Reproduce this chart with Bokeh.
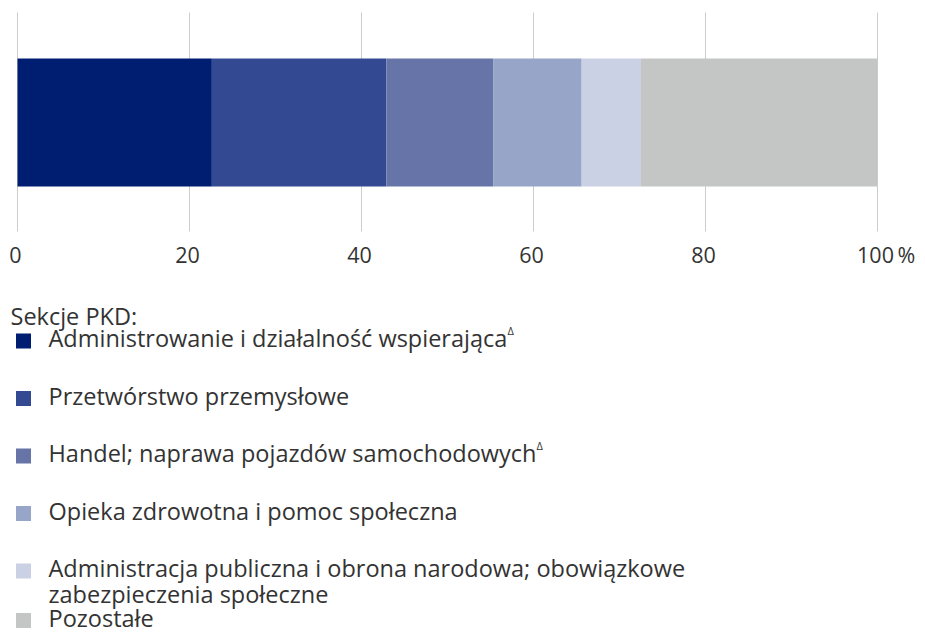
from bokeh.plotting import figure
from bokeh.models import Range1d, ColumnDataSource
from bokeh.core.properties import value
from bokeh.embed import file_html
from bokeh.resources import INLINE
import numpy as np

# ---------------- data ----------------
categories = [
    "Administrowanie i działalność wspierająca",
    "Przetwórstwo przemysłowe",
    "Handel; naprawa pojazdów samochodowych",
    "Opieka zdrowotna i pomoc społeczna",
    "Administracja publiczna i obrona narodowa; obowiązkowe\nzabezpieczenia społeczne",
    "Pozostałe",
]
footnote_marks = ["Δ", "", "Δ", "", "", ""]
shares = [22.6, 20.3, 12.4, 10.3, 6.9, 27.5]
tick_values = [0, 20, 40, 60, 80, 100]
tick_labels = ["0", "20", "40", "60", "80", "100"]
unit_label = "%"
legend_title = "Sekcje PKD:"

# ---------------- style / layout ----------------
colors = ["#001e71", "#334a92", "#6674a8", "#97a5c9", "#cbd1e4", "#c4c6c5"]
FONT = "Open Sans"
TEXT = "#333333"
GRID = "#cccccc"
W, H = 925, 634
PX_PER_UNIT = 8.6
ZERO_X = 17
BAR_Y, BAR_H = 122, 128
GRID_TOP, GRID_BOTTOM = 12, 231
TICK_BASE = 264
LEG_FS, TICK_FS, MARK_FS = 23.5, 21.5, 11
BASE_FIX = 0.45          # empirical alphabetic-baseline correction (em)
ROW_Y = [340.5, 398, 455.5, 513, 570.5, 620]
LINE_H = 26
MARK_X = [507, None, 536, None, None, None]


def fix(fs):
    return -BASE_FIX * fs


p = figure(width=W, height=H,
           x_range=Range1d(-ZERO_X / PX_PER_UNIT, (W - ZERO_X) / PX_PER_UNIT),
           y_range=Range1d(H, 0),
           output_backend="svg", toolbar_location=None,
           x_axis_location=None, y_axis_location=None,
           min_border_left=0, min_border_right=0,
           min_border_top=0, min_border_bottom=0)
p.outline_line_color = None
p.xgrid.visible = False
p.ygrid.visible = False
p.background_fill_color = "white"
p.border_fill_color = "white"

# grid lines at tick positions
p.segment(x0=tick_values, x1=tick_values,
          y0=[GRID_TOP] * len(tick_values), y1=[GRID_BOTTOM] * len(tick_values),
          line_color=GRID, line_width=1)

# stacked bar
right = np.cumsum(shares)
left = right - np.array(shares)
bar_src = ColumnDataSource(dict(left=left, right=right, color=colors,
                                y=[BAR_Y] * len(shares)))
p.hbar(y="y", left="left", right="right", height=BAR_H,
       fill_color="color", line_color=None, source=bar_src)

# tick labels
p.text(x=tick_values, y=[TICK_BASE + fix(TICK_FS)] * len(tick_values),
       text=tick_labels, x_offset=-2,
       text_font=value(FONT), text_font_size=f"{TICK_FS}px", text_color=TEXT,
       text_baseline="alphabetic", text_align="center")
p.text(x=[tick_values[-1]], y=[TICK_BASE + fix(TICK_FS)], text=[unit_label],
       x_offset=20,
       text_font=value(FONT), text_font_size=f"{TICK_FS}px", text_color=TEXT,
       text_baseline="alphabetic", text_align="left")

# legend
p.text(x=[10 / PX_PER_UNIT - ZERO_X / PX_PER_UNIT], y=[326.5 + fix(LEG_FS)],
       text=[legend_title],
       text_font=value(FONT), text_font_size=f"{LEG_FS}px", text_color=TEXT,
       text_baseline="alphabetic", text_align="left")

sq_x = (23 - ZERO_X) / PX_PER_UNIT
p.scatter(x=[sq_x] * len(categories), y=ROW_Y, marker="square", size=15,
          fill_color=colors, line_color=None)

txt_x = (48 - ZERO_X) / PX_PER_UNIT
lx, ly, lt = [], [], []
for cat, ry in zip(categories, ROW_Y):
    for i, line in enumerate(cat.split("\n")):
        lx.append(txt_x)
        ly.append(ry + 8 + i * LINE_H + fix(LEG_FS))
        lt.append(line)
p.text(x=lx, y=ly, text=lt,
       text_font=value(FONT), text_font_size=f"{LEG_FS}px", text_color=TEXT,
       text_baseline="alphabetic", text_align="left")

mx, my, mt = [], [], []
for m, xx, ry in zip(footnote_marks, MARK_X, ROW_Y):
    if m:
        mx.append((xx - ZERO_X) / PX_PER_UNIT)
        my.append(ry - 5.5 + fix(MARK_FS))
        mt.append(m)
p.text(x=mx, y=my, text=mt,
       text_font=value(FONT), text_font_size=f"{MARK_FS}px", text_color=TEXT,
       text_baseline="alphabetic", text_align="left")

open("out.html", "w").write(file_html(p, INLINE))
